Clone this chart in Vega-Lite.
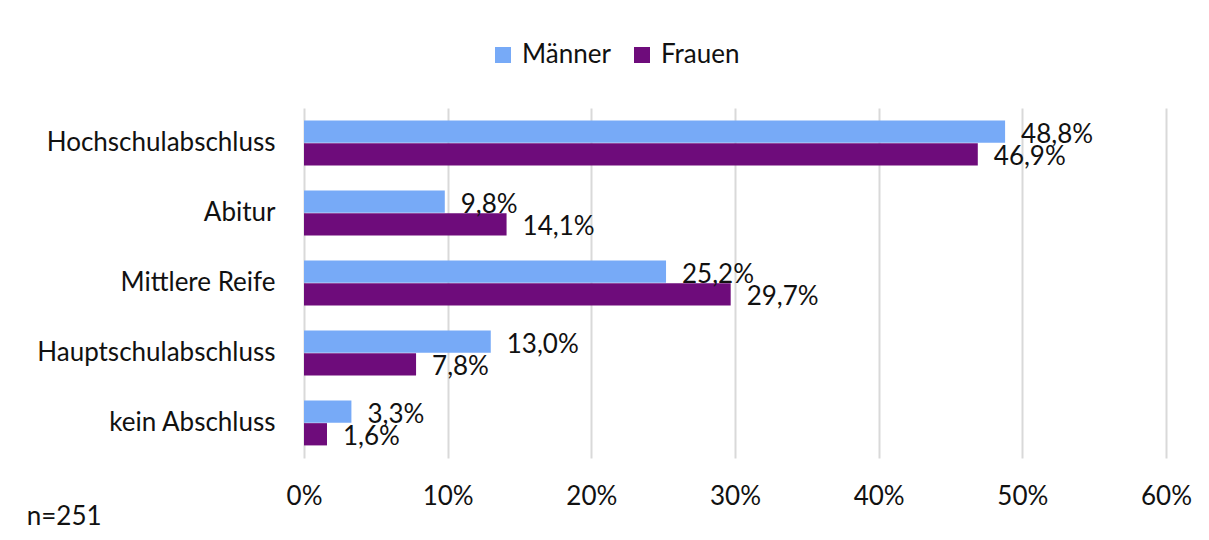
{
  "$schema": "https://vega.github.io/schema/vega-lite/v6.json",
  "width": 862,
  "height": 350,
  "autosize": {"type": "none"},
  "padding": {"left": 304, "top": 108, "right": 43, "bottom": 82},
  "background": "white",
  "config": {
    "font": "Lato",
    "view": {"stroke": null},
    "axis": {"labelFont": "Lato", "labelColor": "#111111", "labelFontSize": 26, "domain": false, "ticks": false, "title": null}
  },
  "title": {"text": "n=251", "orient": "bottom", "anchor": "start", "frame": "bounds", "fontSize": 26, "fontWeight": "normal", "color": "#111111", "font": "Lato", "offset": -5, "dx": -10},
  "data": {
    "values": [
      {"Abschluss": "Hochschulabschluss", "Geschlecht": "Männer", "Wert": 48.8, "Label": "48,8%"},
      {"Abschluss": "Hochschulabschluss", "Geschlecht": "Frauen", "Wert": 46.9, "Label": "46,9%"},
      {"Abschluss": "Abitur", "Geschlecht": "Männer", "Wert": 9.8, "Label": "9,8%"},
      {"Abschluss": "Abitur", "Geschlecht": "Frauen", "Wert": 14.1, "Label": "14,1%"},
      {"Abschluss": "Mittlere Reife", "Geschlecht": "Männer", "Wert": 25.2, "Label": "25,2%"},
      {"Abschluss": "Mittlere Reife", "Geschlecht": "Frauen", "Wert": 29.7, "Label": "29,7%"},
      {"Abschluss": "Hauptschulabschluss", "Geschlecht": "Männer", "Wert": 13.0, "Label": "13,0%"},
      {"Abschluss": "Hauptschulabschluss", "Geschlecht": "Frauen", "Wert": 7.8, "Label": "7,8%"},
      {"Abschluss": "kein Abschluss", "Geschlecht": "Männer", "Wert": 3.3, "Label": "3,3%"},
      {"Abschluss": "kein Abschluss", "Geschlecht": "Frauen", "Wert": 1.6, "Label": "1,6%"}
    ]
  },
  "encoding": {
    "y": {
      "field": "Abschluss", "type": "nominal",
      "sort": ["Hochschulabschluss", "Abitur", "Mittlere Reife", "Hauptschulabschluss", "kein Abschluss"],
      "scale": {"paddingInner": 0.357, "paddingOuter": 0.18},
      "axis": {"labelPadding": 29, "grid": false, "labelLimit": 0}
    },
    "yOffset": {"field": "Geschlecht", "type": "nominal", "sort": ["Männer", "Frauen"], "scale": {"paddingInner": 0.02}},
    "x": {
      "field": "Wert", "type": "quantitative",
      "scale": {"domain": [0, 60], "nice": false},
      "axis": {"values": [0, 10, 20, 30, 40, 50, 60], "labelExpr": "datum.value + '%'", "grid": true, "gridColor": "#d9d9d9", "gridWidth": 2, "labelPadding": 25, "labelFlush": false}
    }
  },
  "layer": [
    {
      "mark": {"type": "bar"},
      "encoding": {
        "color": {
          "field": "Geschlecht", "type": "nominal",
          "sort": ["Männer", "Frauen"],
          "scale": {"domain": ["Männer", "Frauen"], "range": ["#77AAF7", "#6E0C7B"]},
          "legend": {"title": null, "orient": "none", "direction": "horizontal", "legendX": 186, "legendY": -66, "symbolType": "square", "symbolSize": 256, "symbolStrokeWidth": 0, "labelFontSize": 26, "labelFont": "Lato", "labelColor": "#111111", "labelOffset": 6, "columnPadding": 18}
        }
      }
    },
    {
      "mark": {"type": "text", "align": "left", "baseline": "middle", "dx": 16, "dy": 3, "fontSize": 26, "color": "#111111"},
      "encoding": {"text": {"field": "Label"}}
    }
  ]
}
